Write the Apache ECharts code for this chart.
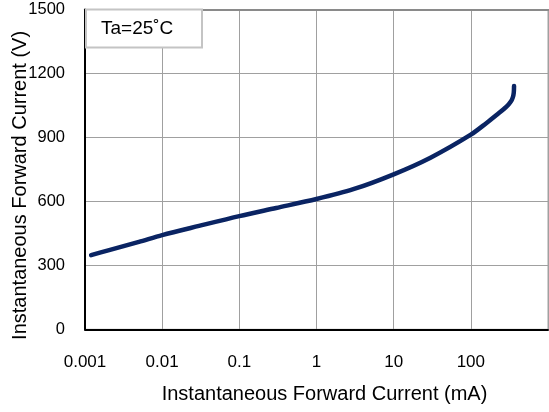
<!DOCTYPE html>
<html>
<head>
<meta charset="utf-8">
<script src="https://cdn.jsdelivr.net/npm/echarts@6/dist/echarts.min.js"></script>
<style>
html,body{margin:0;padding:0;background:#fff;}
#chart{width:549px;height:412px;}
</style>
</head>
<body>
<div id="chart"></div>
<script>
// Data
const currentMA = [0.0012, 0.002, 0.005, 0.01, 0.03, 0.1, 0.3, 1, 3, 10, 30, 100, 160, 215, 290, 330, 350, 360, 363];
const voltageV  = [348, 370, 410, 442, 485, 531, 569, 611, 657, 727, 805, 913, 968, 1005, 1044, 1068, 1088, 1110, 1141];
const xTickLabels = ['0.001', '0.01', '0.1', '1', '10', '100'];
const yTickValues = [0, 300, 600, 900, 1200, 1500];
const xTitle = 'Instantaneous Forward Current (mA)';
const yTitle = 'Instantaneous Forward Current (V)';
const noteText = 'Ta=25˚C';

const FONT = "Arial, 'Liberation Sans', sans-serif";
const chart = echarts.init(document.getElementById('chart'), null, {renderer: 'canvas'});
const seriesData = currentMA.map((x, i) => [x, voltageV[i]]);

chart.setOption({
  animation: false,
  backgroundColor: '#fff',
  grid: {
    left: 85, right: 1, top: 9.5, bottom: 82.7,
    containLabel: false,
    outerBoundsMode: 'none',
    show: true,
    borderColor: '#a0a0a0',
    borderWidth: 1
  },
  xAxis: {
    type: 'log',
    logBase: 10,
    min: 0.001,
    max: 1000,
    name: xTitle,
    nameLocation: 'middle',
    nameGap: 55,
    nameMoveOverlap: false,
    nameTextStyle: {fontSize: 20, color: '#000', fontFamily: FONT, padding: [0, 0, 0, 16]},
    axisLine: {show: true, onZero: false, lineStyle: {color: '#000', width: 2}},
    axisTick: {show: false},
    minorTick: {show: false},
    axisLabel: {
      fontSize: 17, color: '#000', fontFamily: FONT, margin: 25,
      formatter: function (v, idx) { return xTickLabels[idx] !== undefined ? xTickLabels[idx] : ''; }
    },
    splitLine: {show: true, lineStyle: {color: '#a0a0a0', width: 1}}
  },
  yAxis: {
    type: 'value',
    min: yTickValues[0],
    max: yTickValues[yTickValues.length - 1],
    interval: 300,
    name: yTitle,
    nameLocation: 'middle',
    nameGap: 55,
    nameMoveOverlap: false,
    nameTextStyle: {fontSize: 20, color: '#000', fontFamily: FONT, padding: [0, 32, 0, 0]},
    axisLine: {show: true, lineStyle: {color: '#000', width: 2}},
    axisTick: {show: false},
    axisLabel: {fontSize: 16.5, color: '#000', fontFamily: FONT, margin: 20,
      formatter: function (v) { return String(v); }},
    splitLine: {show: true, lineStyle: {color: '#a0a0a0', width: 1}}
  },
  graphic: [
    {
      type: 'line',
      shape: {x1: 85, y1: 10, x2: 549, y2: 10},
      style: {stroke: '#8a8a8a', lineWidth: 2},
      z: 99
    },
    {
      type: 'rect',
      shape: {x: 86, y: 9.5, width: 116, height: 38},
      style: {fill: '#fff', stroke: '#c4c4c4', lineWidth: 2},
      z: 100
    },
    {
      type: 'text',
      x: 101, y: 29,
      style: {text: noteText, fontSize: 19, fontFamily: FONT, fill: '#000', verticalAlign: 'middle'},
      z: 101
    }
  ],
  series: [{
    type: 'line',
    data: seriesData,
    showSymbol: false,
    symbol: 'none',
    smooth: 0.3,
    lineStyle: {color: '#0a2463', width: 4.5, cap: 'round', join: 'round'},
    z: 5
  }]
});
</script>
</body>
</html>
